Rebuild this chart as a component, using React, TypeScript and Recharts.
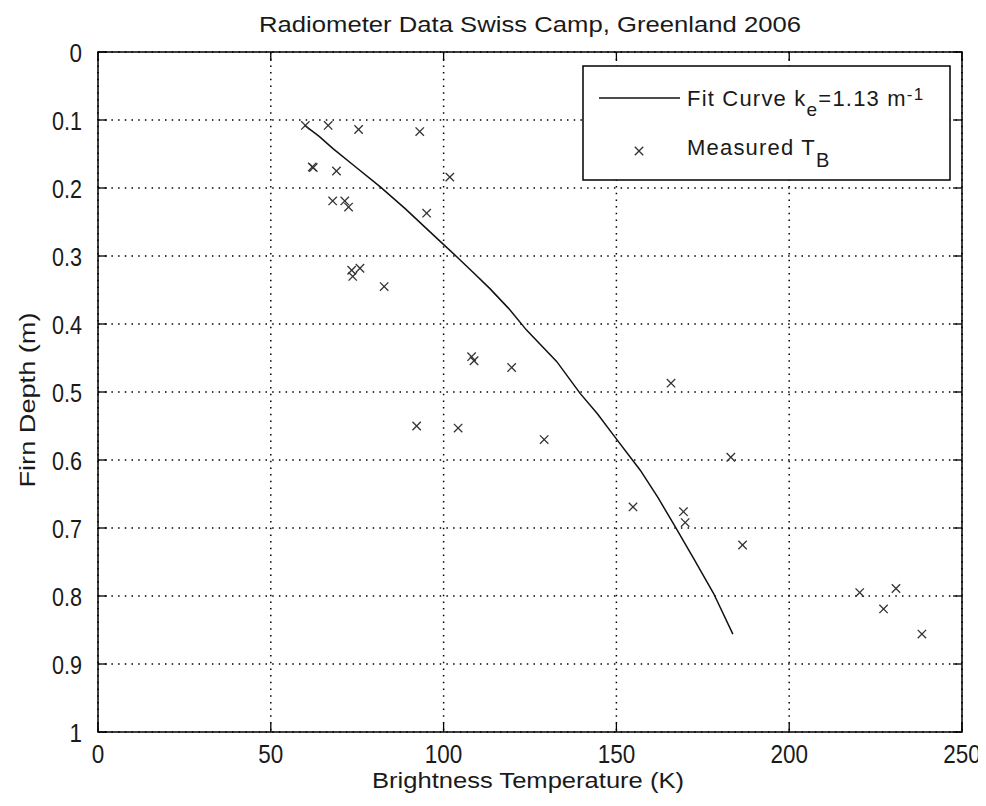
import React from 'react';
import { ScatterChart, Scatter, XAxis, YAxis, CartesianGrid, Customized } from 'recharts';

// ---- Data ----
const measuredT = [
  60.0, 66.6, 75.4, 93.1, 62.0, 62.3, 69.0, 101.8, 67.9, 71.4, 72.5, 95.1,
  75.8, 73.4, 73.7, 82.8, 108.1, 108.8, 92.2, 104.2, 119.7, 165.8, 129.1,
  183.1, 154.8, 169.4, 169.9, 186.5, 220.4, 230.9, 227.3, 238.4,
];
const measuredDepth = [
  0.108, 0.108, 0.114, 0.117, 0.169, 0.170, 0.175, 0.184, 0.219, 0.219, 0.228, 0.237,
  0.318, 0.321, 0.330, 0.345, 0.448, 0.454, 0.550, 0.553, 0.464, 0.487, 0.570,
  0.596, 0.669, 0.676, 0.692, 0.725, 0.795, 0.789, 0.819, 0.856,
];
const fitT = [
  59.8, 64.0, 68.0, 74.3, 81.6, 88.8, 98.7, 103.8, 108.5, 113.4, 118.8, 124.0,
  132.7, 139.5, 144.5, 149.1, 156.9, 162.0, 167.0, 172.5, 178.1, 183.7,
];
const fitDepth = [
  0.108, 0.124, 0.142, 0.168, 0.198, 0.230, 0.277, 0.301, 0.324, 0.348, 0.377, 0.409,
  0.455, 0.502, 0.532, 0.563, 0.615, 0.655, 0.698, 0.746, 0.796, 0.856,
];
const xTicks = [0, 50, 100, 150, 200, 250];
const yTicks = [0, 0.1, 0.2, 0.3, 0.4, 0.5, 0.6, 0.7, 0.8, 0.9, 1];

const titleText = 'Radiometer Data Swiss Camp, Greenland 2006';
const xLabelText = 'Brightness Temperature (K)';
const yLabelText = 'Firn Depth (m)';

const measured = measuredT.map((t, i) => ({ t, d: measuredDepth[i] }));
const fit = fitT.map((t, i) => ({ t, d: fitDepth[i] }));

// ---- Layout ----
const W = 978;
const H = 790;
const PL = 90;
const PT = 44;
const PR = 954;
const PB = 724;
const FONT = "'Liberation Sans', Arial, Helvetica, sans-serif";
const INK = '#1a1a1a';

const labelLen = (s: string) => {
  let n = 0;
  for (const c of s) n += c === '.' ? 5 : 12.5;
  return n;
};

const fmtY = (v: number) => String(Number(v.toFixed(1)));

const renderXTick = (props: any) => {
  const { x, payload } = props;
  const s = String(payload.value);
  return (
    <g>
      <line x1={x} x2={x} y1={PB} y2={PB - 9} stroke="#000" strokeWidth={1.3} />
      <line x1={x} x2={x} y1={PT} y2={PT + 9} stroke="#000" strokeWidth={1.3} />
      <text
        x={x}
        y={PB + 31}
        textAnchor="middle"
        fontSize={26}
        fontFamily={FONT}
        fill={INK}
        textLength={labelLen(s)}
        lengthAdjust="spacingAndGlyphs"
      >
        {s}
      </text>
    </g>
  );
};

const renderYTick = (props: any) => {
  const { y, payload } = props;
  const s = fmtY(payload.value);
  return (
    <g>
      <line x1={PL} x2={PL + 9} y1={y} y2={y} stroke="#000" strokeWidth={1.3} />
      <line x1={PR} x2={PR - 9} y1={y} y2={y} stroke="#000" strokeWidth={1.3} />
      <text
        x={74}
        y={y + 9.5}
        textAnchor="end"
        fontSize={26}
        fontFamily={FONT}
        fill={INK}
        textLength={labelLen(s)}
        lengthAdjust="spacingAndGlyphs"
      >
        {s}
      </text>
    </g>
  );
};

const Cross = (props: any) => {
  const { cx, cy } = props;
  if (cx == null || cy == null) return <g />;
  const s = 4.2;
  return (
    <g stroke="#333" strokeWidth={1.3}>
      <line x1={cx - s} y1={cy - s} x2={cx + s} y2={cy + s} />
      <line x1={cx - s} y1={cy + s} x2={cx + s} y2={cy - s} />
    </g>
  );
};

const NoShape = () => <g />;

const Overlay = () => {
  const lx = 575;
  const ly = 58;
  return (
    <g>
      {/* frame */}
      <rect x={PL} y={PT} width={PR - PL} height={PB - PT} fill="none" stroke="#000" strokeWidth={1.5} />
      {/* title */}
      <text
        x={(PL + PR) / 2}
        y={24}
        textAnchor="middle"
        fontSize={22}
        fontFamily={FONT}
        fill={INK}
        textLength={542}
        lengthAdjust="spacingAndGlyphs"
      >
        {titleText}
      </text>
      {/* x label */}
      <text
        x={520}
        y={780}
        textAnchor="middle"
        fontSize={22}
        fontFamily={FONT}
        fill={INK}
        textLength={312}
        lengthAdjust="spacingAndGlyphs"
      >
        {xLabelText}
      </text>
      {/* y label */}
      <text
        x={0}
        y={0}
        transform={`translate(27, ${(PT + PB) / 2 + 8}) rotate(-90)`}
        textAnchor="middle"
        fontSize={22}
        fontFamily={FONT}
        fill={INK}
        textLength={175}
        lengthAdjust="spacingAndGlyphs"
      >
        {yLabelText}
      </text>
      {/* legend */}
      <rect x={lx} y={ly} width={367} height={114} fill="#fff" stroke="#000" strokeWidth={1.5} />
      <line x1={591} x2={672} y1={90} y2={90} stroke="#111" strokeWidth={1.5} />
      <text x={679} y={98} fontSize={22} fontFamily={FONT} fill={INK} letterSpacing={1.2}>
        Fit Curve k
        <tspan dy={10} fontSize={19}>e</tspan>
        <tspan dy={-10}>=1.13 m</tspan>
        <tspan dy={-6} fontSize={17}>-1</tspan>
      </text>
      <Cross cx={631} cy={143} />
      <text x={679} y={147} fontSize={22} fontFamily={FONT} fill={INK} letterSpacing={1.2}>
        Measured T
        <tspan dy={12} fontSize={20}>B</tspan>
      </text>
    </g>
  );
};

export default function App() {
  return (
    <div style={{ width: W, height: H, background: '#fff' }}>
      <ScatterChart width={W} height={H} margin={{ top: PT, right: W - PR, bottom: 0, left: 30 }}>
        <CartesianGrid stroke="#000" strokeWidth={1.5} strokeDasharray="1.5 5.2" />
        <XAxis
          type="number"
          dataKey="t"
          domain={[0, 250]}
          ticks={xTicks}
          interval={0}
          height={66}
          axisLine={false}
          tickLine={false}
          tick={renderXTick}
        />
        <YAxis
          type="number"
          dataKey="d"
          domain={[0, 1]}
          ticks={yTicks}
          interval={0}
          reversed
          width={60}
          axisLine={false}
          tickLine={false}
          tick={renderYTick}
        />
        <Scatter
          data={fit}
          line={{ stroke: '#111', strokeWidth: 1.5 }}
          lineType="joint"
          shape={NoShape}
          fill="#111"
          isAnimationActive={false}
        />
        <Scatter data={measured} shape={Cross} fill="#333" isAnimationActive={false} />
        <Customized component={Overlay} />
      </ScatterChart>
    </div>
  );
}
